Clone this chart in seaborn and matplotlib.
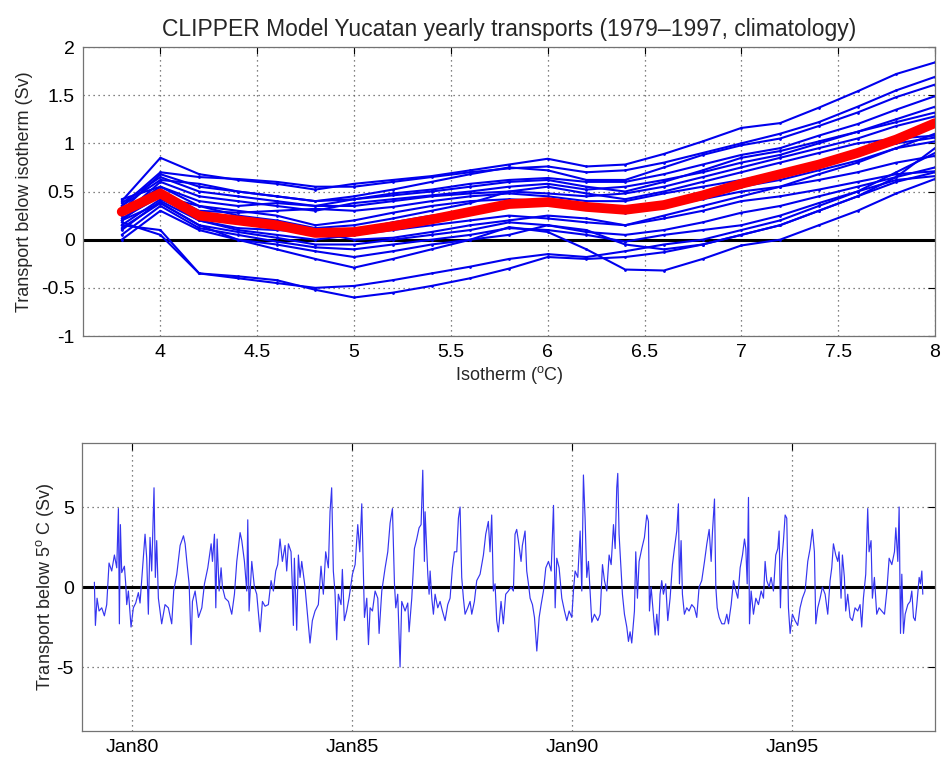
import numpy as np
import pandas as pd
import matplotlib
matplotlib.use("Agg")
import matplotlib.pyplot as plt
from matplotlib.ticker import FormatStrFormatter
import seaborn as sns

# ---------------- data: top panel ----------------
isotherm = [3.8, 4.0, 4.2, 4.4, 4.6, 4.8, 5.0, 5.2, 5.4, 5.6, 5.8, 6.0,
            6.2, 6.4, 6.6, 6.8, 7.0, 7.2, 7.4, 7.6, 7.8, 8.0]
years = list(range(1979, 1998))
yearly_transport = [
    [0.40, 0.85, 0.68, 0.62, 0.58, 0.52, 0.58, 0.62, 0.66, 0.72, 0.78, 0.84, 0.76, 0.78, 0.89, 1.02, 1.16, 1.21, 1.37, 1.54, 1.72, 1.84],
    [0.35, 0.70, 0.65, 0.63, 0.60, 0.55, 0.55, 0.60, 0.65, 0.70, 0.74, 0.76, 0.70, 0.72, 0.80, 0.90, 1.00, 1.10, 1.22, 1.38, 1.55, 1.69],
    [0.30, 0.68, 0.55, 0.50, 0.45, 0.40, 0.45, 0.52, 0.60, 0.68, 0.75, 0.72, 0.62, 0.62, 0.75, 0.88, 0.98, 1.05, 1.18, 1.32, 1.48, 1.61],
    [0.38, 0.65, 0.50, 0.45, 0.40, 0.35, 0.42, 0.48, 0.52, 0.58, 0.62, 0.64, 0.60, 0.60, 0.68, 0.78, 0.88, 0.95, 1.08, 1.20, 1.35, 1.49],
    [0.25, 0.60, 0.45, 0.40, 0.35, 0.30, 0.38, 0.42, 0.46, 0.50, 0.55, 0.58, 0.52, 0.55, 0.62, 0.70, 0.80, 0.88, 1.00, 1.12, 1.22, 1.32],
    [0.42, 0.55, 0.40, 0.35, 0.38, 0.35, 0.35, 0.40, 0.45, 0.48, 0.50, 0.48, 0.45, 0.48, 0.55, 0.65, 0.75, 0.85, 0.95, 1.05, 1.18, 1.28],
    [0.20, 0.50, 0.30, 0.28, 0.30, 0.32, 0.30, 0.34, 0.40, 0.45, 0.48, 0.45, 0.40, 0.40, 0.48, 0.55, 0.62, 0.70, 0.80, 0.90, 1.00, 1.06],
    [0.30, 0.45, 0.35, 0.30, 0.25, 0.15, 0.20, 0.28, 0.35, 0.40, 0.42, 0.40, 0.32, 0.28, 0.35, 0.45, 0.55, 0.62, 0.72, 0.82, 0.95, 1.02],
    [0.15, 0.42, 0.25, 0.18, 0.12, 0.05, 0.10, 0.18, 0.25, 0.30, 0.35, 0.38, 0.35, 0.30, 0.35, 0.42, 0.50, 0.55, 0.62, 0.70, 0.80, 0.87],
    [0.10, 0.40, 0.20, 0.10, 0.05, 0.00, 0.05, 0.10, 0.15, 0.20, 0.25, 0.22, 0.18, 0.15, 0.22, 0.30, 0.40, 0.45, 0.52, 0.60, 0.68, 0.71],
    [0.20, 0.38, 0.15, 0.08, 0.02, -0.05, -0.05, 0.00, 0.05, 0.10, 0.18, 0.15, 0.08, 0.05, 0.10, 0.18, 0.28, 0.35, 0.45, 0.55, 0.65, 0.75],
    [0.05, 0.35, 0.12, 0.05, -0.02, -0.08, -0.10, -0.05, 0.00, 0.05, 0.12, 0.10, 0.05, -0.02, 0.05, 0.10, 0.15, 0.25, 0.38, 0.50, 0.62, 0.66],
    [0.00, 0.30, 0.10, 0.00, -0.05, -0.12, -0.18, -0.12, -0.05, 0.00, 0.05, 0.15, 0.10, -0.05, -0.10, -0.05, 0.05, 0.15, 0.30, 0.45, 0.60, 0.70],
    [0.12, 0.38, 0.15, 0.00, -0.10, -0.20, -0.29, -0.20, -0.10, 0.00, 0.13, 0.08, -0.10, -0.31, -0.32, -0.20, -0.06, 0.00, 0.15, 0.30, 0.48, 0.63],
    [0.15, 0.10, -0.35, -0.40, -0.45, -0.50, -0.48, -0.42, -0.35, -0.28, -0.20, -0.15, -0.18, -0.12, -0.05, 0.00, 0.10, 0.20, 0.35, 0.50, 0.70, 0.90],
    [0.18, 0.05, -0.35, -0.38, -0.42, -0.52, -0.60, -0.55, -0.48, -0.40, -0.30, -0.18, -0.20, -0.18, -0.13, -0.05, 0.05, 0.15, 0.30, 0.45, 0.65, 0.95],
    [0.35, 0.62, 0.58, 0.50, 0.45, 0.40, 0.42, 0.46, 0.50, 0.55, 0.60, 0.62, 0.55, 0.50, 0.60, 0.72, 0.85, 0.92, 1.02, 1.12, 1.25, 1.38],
    [0.28, 0.55, 0.35, 0.25, 0.20, 0.12, 0.15, 0.22, 0.30, 0.38, 0.50, 0.55, 0.48, 0.42, 0.50, 0.60, 0.70, 0.80, 0.90, 1.00, 1.05, 1.08],
    [0.22, 0.45, 0.20, 0.12, 0.10, 0.08, 0.00, 0.02, 0.08, 0.15, 0.20, 0.25, 0.22, 0.15, 0.25, 0.35, 0.45, 0.55, 0.68, 0.80, 0.95, 1.10],
]
climatology = [0.29, 0.48, 0.25, 0.20, 0.15, 0.07, 0.08, 0.14, 0.21, 0.29, 0.37, 0.39,
               0.34, 0.31, 0.36, 0.46, 0.58, 0.68, 0.78, 0.90, 1.04, 1.21]

# ---------------- data: bottom panel (decimal year, Sv) ----------------
t_year = [
    1979.144, 1979.167, 1979.205, 1979.250, 1979.311, 1979.371, 1979.424, 1979.477, 1979.538, 1979.599,
    1979.652, 1979.690, 1979.712, 1979.735, 1979.765, 1979.826, 1979.856, 1979.879, 1979.917, 1979.977,
    1980.030, 1980.084, 1980.144, 1980.182, 1980.235, 1980.296, 1980.334, 1980.371, 1980.409, 1980.447,
    1980.500, 1980.530, 1980.561, 1980.599, 1980.674, 1980.750, 1980.826, 1980.902, 1980.947, 1981.015,
    1981.091, 1981.167, 1981.205, 1981.250, 1981.296, 1981.341, 1981.371, 1981.432, 1981.508, 1981.584,
    1981.644, 1981.720, 1981.796, 1981.826, 1981.871, 1981.902, 1981.932, 1981.977, 1982.023, 1982.053,
    1982.114, 1982.190, 1982.265, 1982.326, 1982.379, 1982.455, 1982.493, 1982.553, 1982.606, 1982.629,
    1982.659, 1982.720, 1982.780,
    1982.833, 1982.909, 1982.962, 1983.022, 1983.098, 1983.159, 1983.212, 1983.265, 1983.310, 1983.363,
    1983.416, 1983.477, 1983.515, 1983.553, 1983.613, 1983.643, 1983.666, 1983.689, 1983.742, 1983.780,
    1983.818, 1983.856, 1983.931, 1984.007, 1984.045, 1984.098, 1984.159, 1984.234, 1984.295, 1984.348,
    1984.401, 1984.462, 1984.500, 1984.537, 1984.575, 1984.613, 1984.651, 1984.689, 1984.750, 1984.780,
    1984.825, 1984.878, 1984.931, 1985.007, 1985.068, 1985.128, 1985.174, 1985.219, 1985.257, 1985.280,
    1985.333, 1985.371, 1985.409, 1985.462, 1985.522, 1985.583, 1985.613, 1985.674, 1985.750, 1985.810,
    1985.863, 1985.916, 1985.962, 1985.992, 1986.037, 1986.090, 1986.128, 1986.204, 1986.265, 1986.295,
    1986.356, 1986.416, 1986.469, 1986.522, 1986.568, 1986.606, 1986.643,
    1986.659, 1986.720, 1986.750, 1986.773, 1986.811, 1986.848, 1986.886, 1986.947, 1987.000, 1987.053,
    1987.114, 1987.174, 1987.227, 1987.280, 1987.326, 1987.379, 1987.417, 1987.454, 1987.492, 1987.530,
    1987.568, 1987.629, 1987.682, 1987.720, 1987.780, 1987.833, 1987.909, 1987.985, 1988.038, 1988.098,
    1988.136, 1988.174, 1988.212, 1988.250, 1988.288, 1988.326, 1988.386, 1988.439, 1988.492, 1988.553,
    1988.614, 1988.667, 1988.704, 1988.742, 1988.780, 1988.841, 1988.871, 1988.932, 1988.970, 1989.007,
    1989.045, 1989.098, 1989.144, 1989.197, 1989.250, 1989.295, 1989.348, 1989.401, 1989.462, 1989.523,
    1989.576, 1989.614, 1989.651, 1989.704, 1989.765, 1989.826, 1989.879, 1989.932, 1989.992, 1990.030,
    1990.068, 1990.129, 1990.182, 1990.220, 1990.257, 1990.295, 1990.333, 1990.371, 1990.409, 1990.447,
    1990.507,
    1990.584, 1990.637, 1990.690, 1990.735, 1990.788, 1990.841, 1990.887, 1990.940, 1990.978, 1991.015,
    1991.038, 1991.068, 1991.114, 1991.144, 1991.190, 1991.243, 1991.281, 1991.318, 1991.356, 1991.417,
    1991.447, 1991.485, 1991.523, 1991.584, 1991.644, 1991.697, 1991.735, 1991.758, 1991.796, 1991.849,
    1991.887, 1991.925, 1991.962, 1992.000, 1992.038, 1992.076, 1992.129, 1992.175, 1992.228, 1992.281,
    1992.326, 1992.379, 1992.417, 1992.440, 1992.478, 1992.508, 1992.553, 1992.606, 1992.659, 1992.720,
    1992.781, 1992.834, 1992.887, 1992.947, 1993.008, 1993.061, 1993.114, 1993.159, 1993.190, 1993.235,
    1993.265, 1993.296, 1993.341, 1993.402, 1993.462, 1993.515, 1993.553, 1993.614, 1993.667, 1993.720,
    1993.765, 1993.818, 1993.871, 1993.917, 1993.947, 1993.978, 1994.008, 1994.031, 1994.068, 1994.121,
    1994.175, 1994.235, 1994.296, 1994.349,
    1994.386, 1994.424, 1994.477, 1994.522, 1994.575, 1994.628, 1994.674, 1994.704, 1994.734, 1994.765,
    1994.803, 1994.841, 1994.878, 1994.916, 1994.954, 1995.007, 1995.068, 1995.128, 1995.181, 1995.234,
    1995.295, 1995.356, 1995.409, 1995.462, 1995.507, 1995.538, 1995.583, 1995.636, 1995.689, 1995.750,
    1995.810, 1995.863, 1995.901, 1995.939, 1995.992, 1996.038, 1996.068, 1996.113, 1996.144, 1996.189,
    1996.219, 1996.265, 1996.318, 1996.371, 1996.431, 1996.492, 1996.545, 1996.583, 1996.621, 1996.674,
    1996.719, 1996.750, 1996.795, 1996.825, 1996.871, 1996.924, 1996.977, 1997.038, 1997.098, 1997.151,
    1997.204, 1997.265, 1997.325, 1997.356, 1997.401, 1997.431, 1997.462, 1997.492, 1997.530, 1997.568,
    1997.628, 1997.681, 1997.719, 1997.757, 1997.795, 1997.833, 1997.886, 1997.916, 1997.947, 1997.969,
]
transport_5C = [
    0.3, -2.4, -0.7, -1.5, -1.3, -1.8, -1.1, 1.5, 1.0, 2.0,
    1.2, 4.9, -2.3, 3.9, 0.9, 1.3, 0.2, -1.1, -0.25, -2.5,
    -1.3, -1.0, -0.35, -1.0, 1.0, 3.3, 1.8, -1.7, 3.1, 1.0,
    6.2, 0.6, 2.9, -0.7, -2.3, -1.1, -1.3, -2.3, -0.25, 0.8,
    2.6, 3.2, 2.7, 1.4, 0.2, -3.6, -0.9, -0.25, -1.9, -1.3,
    0.2, 1.2, 2.7, 1.6, 3.3, -1.3, 3.0, -0.25, 1.2, 0.0,
    -0.7, -0.9, -1.7, -0.45, 1.6, 3.4, 2.9, 1.6, -0.25, 4.2,
    -1.5, 1.6, 0.0,
    -0.45, -2.8, -0.9, -1.2, -1.1, 0.4, -0.25, 1.0, 1.4, 3.0,
    1.6, 2.6, 1.0, 2.7, 2.2, 0.0, -2.4, 1.8, -2.7, 2.0,
    0.6, 1.6, 0.0, -2.3, -3.5, -2.1, -1.5, -1.1, 1.3, -0.45,
    2.2, 1.2, 4.7, 6.2, 1.0, -0.35, -3.3, -0.45, -1.1, 1.1,
    -2.1, -1.5, -0.7, 0.8, 1.4, 3.9, 2.2, 5.2, 0.6, -1.9,
    -0.7, -3.6, -1.3, -1.5, -0.25, -0.7, -2.9, -0.25, 1.2, 2.2,
    4.0, 4.9, 0.2, -1.3, -0.45, -5.0, -0.9, -1.5, -1.0, -2.8,
    -0.7, 2.4, 3.0, 3.7, 3.9, 7.3, 1.6,
    4.7, 0.8, -0.45, 1.0, -0.7, -1.7, -0.45, -1.3, -0.9, -1.5,
    -2.1, -1.1, -0.7, 1.2, 2.2, 2.2, 4.3, 5.0, 0.6, -0.7,
    -1.7, -1.3, -0.9, -1.7, -0.9, 0.4, 0.8, 2.0, 3.3, 4.1,
    2.2, 4.5, -0.25, 0.2, -2.1, -2.8, -0.9, -2.3, -0.45, -0.25,
    0.0, -0.25, 3.3, 3.6, 2.9, 1.6, 2.6, 3.5, 1.0, 0.2,
    -0.7, -1.1, -1.9, -4.0, -1.9, -1.1, -0.25, 1.2, 1.6, 1.0,
    5.1, -1.3, 1.8, 1.2, -0.7, -1.5, -2.1, -1.5, -1.9, -0.25,
    1.0, 0.6, 3.5, -0.25, 7.0, 4.3, 0.6, 1.6, -0.25, -2.2,
    -1.7,
    -2.1, -1.7, 1.4, 0.4, -0.25, 2.0, 1.4, 3.9, 2.4, 6.2,
    7.1, 3.3, 1.0, -0.45, -1.7, -2.5, -3.4, -2.8, -3.5, -1.5,
    2.2, -0.7, 1.6, 2.4, 3.1, 4.5, 4.1, -1.5, 0.0, -1.7,
    -3.0, -1.7, -3.0, -0.45, 0.4, -0.45, 0.2, -2.1, -0.7, 1.4,
    2.4, 3.5, 5.2, 0.2, 2.9, -0.45, -1.7, -1.3, -1.5, -1.1,
    -1.3, -1.9, 0.0, 0.4, 1.6, 2.7, 3.6, 1.6, 3.5, 5.5,
    0.0, -1.3, -1.9, -2.3, -2.3, -1.7, -2.3, -1.1, 0.4, -0.25,
    -0.7, 1.2, 2.0, 3.0, 2.4, 0.2, 5.6, -2.3, -0.25, -1.7,
    -0.7, -1.1, -0.25, -0.7,
    1.6, 0.4, 0.0, 0.6, -0.25, 2.0, 2.4, 3.5, -1.3, 1.6,
    2.9, 4.5, 4.3, -1.3, -2.9, -1.7, -2.1, -2.4, -1.3, -0.7,
    -0.25, 1.6, 2.4, 3.6, 2.2, -2.3, -1.3, -0.7, 0.0, -0.45,
    -1.7, 0.4, 1.2, 2.7, 2.0, 1.6, 2.2, -0.7, 2.0, 0.6,
    -1.5, -0.45, -1.9, -2.1, -1.3, -1.5, -1.1, -2.5, -0.7, 0.8,
    4.9, 2.2, 2.9, -0.7, 0.6, -1.7, -1.3, -1.5, -1.7, -0.25,
    1.8, 1.4, 2.2, 3.7, 1.6, 5.0, -2.9, 0.8, -2.9, -1.7,
    -1.1, -0.9, -0.25, -1.9, -2.1, -1.1, 0.6, 0.2, 1.0, -0.45,
]
date_ticks = ["1980-01-01", "1985-01-01", "1990-01-01", "1995-01-01"]
date_tick_labels = ["Jan80", "Jan85", "Jan90", "Jan95"]

# ---------------- style ----------------
sns.set_style("white")
plt.rcParams["font.family"] = ["Liberation Sans", "DejaVu Sans"]
plt.rcParams["mathtext.fontset"] = "custom"
plt.rcParams["mathtext.rm"] = "Liberation Sans"
plt.rcParams["mathtext.it"] = "Liberation Sans"
plt.rcParams["axes.unicode_minus"] = False

fig = plt.figure(figsize=(9.45, 7.63), dpi=100)
ax1 = fig.add_axes([0.0878, 0.5596, 0.9016, 0.3788])
ax2 = fig.add_axes([0.0868, 0.0419, 0.9026, 0.3775])

grid_kw = dict(color="0.35", linestyle=(0, (1, 3)), linewidth=0.9)

# ---------------- top panel ----------------
df_top = pd.DataFrame(
    [(yr, x, v) for yr, row in zip(years, yearly_transport) for x, v in zip(isotherm, row)],
    columns=["year", "isotherm", "transport"],
)
ax1.grid(True, **grid_kw)
ax1.axhline(0, color="black", lw=2.2, zorder=1)
sns.lineplot(data=df_top, x="isotherm", y="transport", units="year", estimator=None,
             color="#0000ee", lw=1.5, marker=".", markersize=4, markeredgewidth=0,
             ax=ax1, zorder=2)
sns.lineplot(x=isotherm, y=climatology, color="#ff0000", lw=7, ax=ax1, zorder=3)
ax1.set_xlim(3.6, 8.0)
ax1.set_ylim(-1, 2)
ax1.set_xticks(np.arange(4, 8.01, 0.5))
ax1.set_yticks(np.arange(-1, 2.01, 0.5))
ax1.xaxis.set_major_formatter(FormatStrFormatter("%g"))
ax1.yaxis.set_major_formatter(FormatStrFormatter("%g"))
ax1.set_xlabel("Isotherm ($^{\\rm o}$C)", fontsize=13, labelpad=2)
ax1.set_ylabel("Transport below isotherm (Sv)", fontsize=13, labelpad=6)
ax1.set_title("CLIPPER Model Yucatan yearly transports (1979\u20131997, climatology)",
              fontsize=16.5, pad=8)

# ---------------- bottom panel ----------------
t_arr = np.array(t_year)
dates = (pd.to_datetime([f"{int(y)}-01-01" for y in t_arr])
         + pd.to_timedelta((t_arr - np.floor(t_arr)) * 365.25, unit="D"))
df_bot = pd.DataFrame({"date": dates, "transport": transport_5C})
ax2.grid(True, **grid_kw)
ax2.axhline(0, color="black", lw=2.2, zorder=1)
sns.lineplot(data=df_bot, x="date", y="transport", estimator=None, sort=False,
             color="#3535f0", lw=0.85, ax=ax2, zorder=2)
ax2.set_xlim(pd.Timestamp("1978-11-12"), pd.Timestamp("1998-04-01"))
ax2.set_ylim(-9, 9)
ax2.set_yticks([-5, 0, 5])
ax2.set_yticklabels(["-5", "0", "5"])
ax2.set_xticks(pd.to_datetime(date_ticks))
ax2.set_xticklabels(date_tick_labels)
ax2.set_xlabel("")
ax2.set_ylabel("Transport below 5$^{\\rm o}$ C (Sv)", fontsize=13, labelpad=0)

for ax in (ax1, ax2):
    ax.tick_params(direction="in", length=5, width=0.8, top=True, right=True,
                   labelsize=14, colors="black", pad=6)
    for s in ax.spines.values():
        s.set_color("0.45")
        s.set_linewidth(0.9)
    ax.set_axisbelow(True)

fig.savefig("out.png", dpi=100)
